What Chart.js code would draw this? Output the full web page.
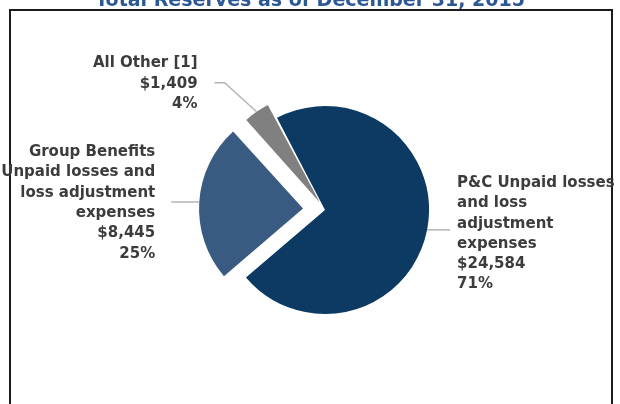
<!DOCTYPE html>
<html>
<head>
<meta charset="utf-8">
<script src="https://cdn.jsdelivr.net/npm/chart.js@4"></script>
<style>
  html, body { margin: 0; padding: 0; background: #fff; }
</style>
</head>
<body>
<canvas id="reserves" width="620" height="404"></canvas>
<script>
// Data
const categories = ['P&C', 'Group Benefits', 'All Other [1]'];
const categoryLines = [
    ['P&C Unpaid losses', 'and loss', 'adjustment', 'expenses'],
    ['Group Benefits', 'Unpaid losses and', 'loss adjustment', 'expenses'],
    ['All Other [1]']
];
const reserves = [24584, 8445, 1409];
const sliceColors = ['#0c3a62', '#3a5b81', '#808080'];
const sliceOffsets = [0, 88, 36];

// Callout layout: leader legs from the arc edge, then text side, gap and vertical nudge
const callouts = [
    { legs: [[23, 0]], align: 'left', gap: 7, dy: 4 },
    { legs: [[-28, 0]], align: 'right', gap: 16, dy: 1 },
    { legs: [[-32, -29], [-10, 0]], align: 'right', gap: 17, dy: 1 }
];

const total = reserves.reduce((a, b) => a + b, 0);

function money(v) {
    return '$' + v.toLocaleString('en-US');
}

// Frame and cut-off title drawn behind the pie
const framePlugin = {
    id: 'frame',
    beforeDraw(chart) {
        const ctx = chart.ctx;
        ctx.save();
        ctx.fillStyle = '#2c5896';
        ctx.font = 'bold 19px "DejaVu Sans"';
        ctx.textAlign = 'center';
        ctx.textBaseline = 'alphabetic';
        ctx.fillText('Total Reserves as of December 31, 2015', 310, 6);
        ctx.strokeStyle = '#1c1c1c';
        ctx.lineWidth = 2;
        ctx.beginPath();
        ctx.moveTo(10, 420);
        ctx.lineTo(10, 10);
        ctx.lineTo(612, 10);
        ctx.lineTo(612, 420);
        ctx.stroke();
        ctx.restore();
    }
};

// Leader lines and labels
const calloutPlugin = {
    id: 'callouts',
    afterDatasetsDraw(chart) {
        const ctx = chart.ctx;
        const meta = chart.getDatasetMeta(0);
        ctx.save();
        meta.data.forEach((arc, i) => {
            const p = arc.getProps(['x', 'y', 'startAngle', 'endAngle', 'outerRadius', 'circumference'], true);
            const mid = (p.startAngle + p.endAngle) / 2;
            const off = sliceOffsets[i] / 4;
            const shift = off + off * (1 - Math.sin(Math.min(Math.PI, p.circumference)));
            let x = p.x + Math.cos(mid) * (shift + p.outerRadius);
            let y = p.y + Math.sin(mid) * (shift + p.outerRadius);

            ctx.strokeStyle = '#b4b4b4';
            ctx.lineWidth = 1.5;
            ctx.beginPath();
            ctx.moveTo(x, y);
            callouts[i].legs.forEach(([dx, dy]) => {
                x += dx;
                y += dy;
                ctx.lineTo(x, y);
            });
            ctx.stroke();

            const lines = categoryLines[i].concat([money(reserves[i]), Math.round(reserves[i] / total * 100) + '%']);
            const lh = 20.3;
            const tx = callouts[i].align === 'left' ? x + callouts[i].gap : x - callouts[i].gap;
            let ty = y + callouts[i].dy - (lines.length - 1) * lh / 2;
            ctx.fillStyle = '#3c3c3c';
            ctx.font = 'bold 15px "DejaVu Sans"';
            ctx.textAlign = callouts[i].align;
            ctx.textBaseline = 'middle';
            lines.forEach(line => {
                ctx.fillText(line, tx, ty);
                ty += lh;
            });
        });
        ctx.restore();
    }
};

new Chart(document.getElementById('reserves'), {
    type: 'pie',
    data: {
        labels: categories,
        datasets: [{
            data: reserves,
            backgroundColor: sliceColors,
            offset: sliceOffsets,
            borderWidth: 0
        }]
    },
    options: {
        responsive: false,
        animation: false,
        rotation: -27.5,
        radius: 104,
        layout: { padding: { left: 30, top: 16, right: 0, bottom: 0 } },
        plugins: {
            legend: { display: false },
            tooltip: { enabled: false }
        }
    },
    plugins: [framePlugin, calloutPlugin]
});
</script>
</body>
</html>
